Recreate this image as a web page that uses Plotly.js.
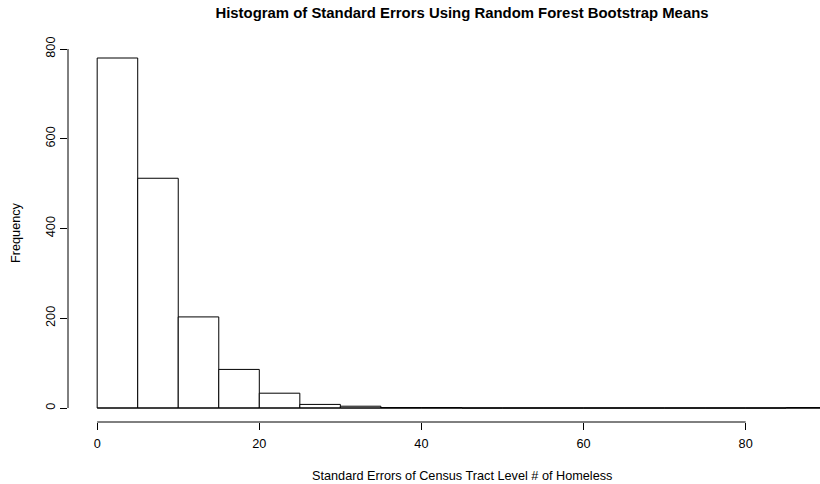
<!DOCTYPE html>
<html>
<head>
<meta charset="utf-8">
<script src="https://cdn.plot.ly/plotly-3.0.1.min.js"></script>
<style>html,body{margin:0;padding:0;background:#fff;}#chart{width:820px;height:484px;}</style>
</head>
<body>
<div id="chart"></div>
<script>
// Histogram bin edges (width 5) and counts
const breaks = [0,5,10,15,20,25,30,35,40,45,50,55,60,65,70,75,80,85,90];
const counts = [780,512,203,86,33,8,4,1,1,0,0,0,0,0,0,0,0,1];
const xTicks = [0,20,40,60,80];
const yTicks = [0,200,400,600,800];
const titleText = "Histogram of Standard Errors Using Random Forest Bootstrap Means";
const xTitle = "Standard Errors of Census Tract Level # of Homeless";
const yTitle = "Frequency";

const mids = counts.map((c,i)=>(breaks[i]+breaks[i+1])/2);
const widths = counts.map((c,i)=>breaks[i+1]-breaks[i]);

const font = {family: "Liberation Sans, Arial, Helvetica, sans-serif", size: 12.7, color: "#000"};

const traces = [
  {
    type: "bar", x: mids, y: counts, width: widths, base: 0,
    marker: {color: "#ffffff", line: {color: "#000000", width: 1}},
    hoverinfo: "x+y", showlegend: false
  },
  {
    // baseline drawn by zero-height bins
    type: "scatter", mode: "lines",
    x: [breaks[0], breaks[breaks.length-1]], y: [0, 0],
    line: {color: "#000000", width: 1}, hoverinfo: "skip", showlegend: false
  }
];

const layout = {
  width: 820, height: 484,
  margin: {l: 68, r: 0, t: 44, b: 62},
  paper_bgcolor: "#ffffff", plot_bgcolor: "#ffffff",
  font: font,
  showlegend: false,
  title: {
    text: "<b>" + titleText + "</b>",
    font: {family: font.family, size: 14.9, color: "#000"},
    xref: "container", x: 462/820, xanchor: "center",
    yref: "container", y: 1 - 13/484, yanchor: "middle"
  },
  xaxis: {
    range: [-3.6, 89.17],
    tickmode: "array", tickvals: xTicks, ticktext: xTicks.map(String),
    ticks: "outside", ticklen: 7, tickwidth: 1, tickcolor: "#000",
    showline: false, showgrid: false, zeroline: false,
    tickfont: font, ticklabelstandoff: 3
  },
  yaxis: {
    range: [-31.2, 811.2],
    tickmode: "array", tickvals: yTicks, ticktext: yTicks.map(String),
    ticks: "outside", ticklen: 7, tickwidth: 1, tickcolor: "#000",
    tickangle: -90,
    showline: false, showgrid: false, zeroline: false,
    tickfont: font, ticklabelstandoff: 0,
    title: {text: yTitle, font: font, standoff: 20}
  },
  shapes: [
    {type: "line", xref: "paper", yref: "y", x0: 0, x1: 0,
     y0: yTicks[0], y1: yTicks[yTicks.length-1], line: {color: "#000", width: 1}},
    {type: "line", xref: "x", yref: "paper", y0: 0, y1: 0,
     x0: xTicks[0], x1: xTicks[xTicks.length-1], line: {color: "#000", width: 1}}
  ],
  annotations: [
    {text: xTitle, xref: "paper", yref: "paper",
     x: (462-68)/752, y: -(476-422)/378, xanchor: "center", yanchor: "middle",
     showarrow: false, font: font}
  ]
};

Plotly.newPlot("chart", traces, layout, {displayModeBar: false, staticPlot: true});
</script>
</body>
</html>
